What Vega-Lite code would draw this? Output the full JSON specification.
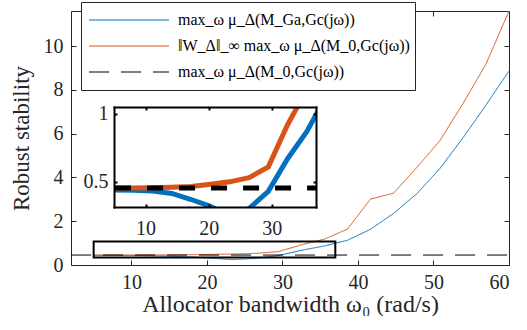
{
  "$schema": "https://vega.github.io/schema/vega-lite/v6.json",
  "width": 438,
  "height": 254,
  "padding": {"left": 10, "top": 1, "right": 0, "bottom": 0},
  "datasets": {
    "curves": [
      {"x": 5, "y": 0.44, "s": "max_ω μ_Δ(M_Ga,Gc(jω))"},
      {"x": 8.056, "y": 0.438, "s": "max_ω μ_Δ(M_Ga,Gc(jω))"},
      {"x": 11.111, "y": 0.432, "s": "max_ω μ_Δ(M_Ga,Gc(jω))"},
      {"x": 14.167, "y": 0.415, "s": "max_ω μ_Δ(M_Ga,Gc(jω))"},
      {"x": 17.222, "y": 0.37, "s": "max_ω μ_Δ(M_Ga,Gc(jω))"},
      {"x": 20.278, "y": 0.32, "s": "max_ω μ_Δ(M_Ga,Gc(jω))"},
      {"x": 23.333, "y": 0.245, "s": "max_ω μ_Δ(M_Ga,Gc(jω))"},
      {"x": 26.389, "y": 0.304, "s": "max_ω μ_Δ(M_Ga,Gc(jω))"},
      {"x": 29.444, "y": 0.43, "s": "max_ω μ_Δ(M_Ga,Gc(jω))"},
      {"x": 32.5, "y": 0.67, "s": "max_ω μ_Δ(M_Ga,Gc(jω))"},
      {"x": 35.556, "y": 0.87, "s": "max_ω μ_Δ(M_Ga,Gc(jω))"},
      {"x": 38.611, "y": 1.13, "s": "max_ω μ_Δ(M_Ga,Gc(jω))"},
      {"x": 41.667, "y": 1.63, "s": "max_ω μ_Δ(M_Ga,Gc(jω))"},
      {"x": 44.722, "y": 2.36, "s": "max_ω μ_Δ(M_Ga,Gc(jω))"},
      {"x": 47.778, "y": 3.25, "s": "max_ω μ_Δ(M_Ga,Gc(jω))"},
      {"x": 50.833, "y": 4.4, "s": "max_ω μ_Δ(M_Ga,Gc(jω))"},
      {"x": 53.889, "y": 5.8, "s": "max_ω μ_Δ(M_Ga,Gc(jω))"},
      {"x": 56.944, "y": 7.3, "s": "max_ω μ_Δ(M_Ga,Gc(jω))"},
      {"x": 60, "y": 8.86, "s": "max_ω μ_Δ(M_Ga,Gc(jω))"},
      {"x": 5, "y": 0.455, "s": "‖W_Δ‖_∞ max_ω μ_Δ(M_0,Gc(jω))"},
      {"x": 8.056, "y": 0.455, "s": "‖W_Δ‖_∞ max_ω μ_Δ(M_0,Gc(jω))"},
      {"x": 11.111, "y": 0.456, "s": "‖W_Δ‖_∞ max_ω μ_Δ(M_0,Gc(jω))"},
      {"x": 14.167, "y": 0.46, "s": "‖W_Δ‖_∞ max_ω μ_Δ(M_0,Gc(jω))"},
      {"x": 17.222, "y": 0.466, "s": "‖W_Δ‖_∞ max_ω μ_Δ(M_0,Gc(jω))"},
      {"x": 20.278, "y": 0.482, "s": "‖W_Δ‖_∞ max_ω μ_Δ(M_0,Gc(jω))"},
      {"x": 23.333, "y": 0.5, "s": "‖W_Δ‖_∞ max_ω μ_Δ(M_0,Gc(jω))"},
      {"x": 26.389, "y": 0.53, "s": "‖W_Δ‖_∞ max_ω μ_Δ(M_0,Gc(jω))"},
      {"x": 29.444, "y": 0.61, "s": "‖W_Δ‖_∞ max_ω μ_Δ(M_0,Gc(jω))"},
      {"x": 32.5, "y": 0.92, "s": "‖W_Δ‖_∞ max_ω μ_Δ(M_0,Gc(jω))"},
      {"x": 35.556, "y": 1.18, "s": "‖W_Δ‖_∞ max_ω μ_Δ(M_0,Gc(jω))"},
      {"x": 38.611, "y": 1.64, "s": "‖W_Δ‖_∞ max_ω μ_Δ(M_0,Gc(jω))"},
      {"x": 41.667, "y": 3.01, "s": "‖W_Δ‖_∞ max_ω μ_Δ(M_0,Gc(jω))"},
      {"x": 44.722, "y": 3.28, "s": "‖W_Δ‖_∞ max_ω μ_Δ(M_0,Gc(jω))"},
      {"x": 47.778, "y": 4.45, "s": "‖W_Δ‖_∞ max_ω μ_Δ(M_0,Gc(jω))"},
      {"x": 50.833, "y": 5.67, "s": "‖W_Δ‖_∞ max_ω μ_Δ(M_0,Gc(jω))"},
      {"x": 53.889, "y": 7.36, "s": "‖W_Δ‖_∞ max_ω μ_Δ(M_0,Gc(jω))"},
      {"x": 56.944, "y": 9.17, "s": "‖W_Δ‖_∞ max_ω μ_Δ(M_0,Gc(jω))"},
      {"x": 60, "y": 11.6, "s": "‖W_Δ‖_∞ max_ω μ_Δ(M_0,Gc(jω))"}
    ],
    "level": [
      {"x": 2, "y": 0.454, "s": "max_ω μ_Δ(M_0,Gc(jω))"},
      {"x": 60, "y": 0.454, "s": "max_ω μ_Δ(M_0,Gc(jω))"}
    ]
  },
  "config": {
    "font": "Liberation Serif",
    "view": {"stroke": "#262626", "strokeWidth": 1},
    "axis": {
      "labelFont": "Liberation Serif",
      "titleFont": "Liberation Serif",
      "labelColor": "#262626",
      "titleColor": "#262626",
      "tickColor": "#262626",
      "domainColor": "#262626",
      "grid": false,
      "labelFontSize": 20,
      "titleFontSize": 23,
      "titleFontWeight": "normal"
    },
    "legend": {
      "labelFont": "Liberation Serif",
      "labelFontSize": 16,
      "labelColor": "#000000",
      "labelLimit": 0,
      "symbolType": "stroke",
      "symbolSize": 6400,
      "symbolStrokeWidth": 1.2,
      "symbolOffset": 2,
      "labelOffset": 8,
      "clipHeight": 26,
      "rowPadding": 0,
      "padding": 5,
      "strokeColor": "#262626",
      "fillColor": "white",
      "orient": "none",
      "legendX": 10,
      "legendY": -9,
      "title": null
    }
  },
  "resolve": {
    "scale": {"x": "independent", "y": "independent"},
    "axis": {"x": "independent", "y": "independent"}
  },
  "layer": [
    {
      "resolve": {"axis": {"x": "independent", "y": "independent"}},
      "layer": [
        {
          "data": {"name": "curves"},
          "mark": {"type": "line", "strokeWidth": 1},
          "encoding": {
            "x": {"field": "x", "type": "quantitative",
              "scale": {"domain": [2, 60], "nice": false, "zero": false},
              "axis": {"orient": "bottom", "values": [10, 20, 30, 40, 50, 60], "tickSize": -5, "labelPadding": 12, "domain": false, "title": "Allocator bandwidth ω₀ (rad/s)", "titleFontSize": 24, "titlePadding": 0}},
            "y": {"field": "y", "type": "quantitative",
              "scale": {"domain": [0, 11.6], "nice": false, "zero": false},
              "axis": {"orient": "left", "values": [0, 2, 4, 6, 8, 10], "tickSize": -5, "labelPadding": 13, "domain": false, "title": "Robust stability", "titlePadding": 10}},
            "color": {"field": "s", "type": "nominal",
              "scale": {"domain": ["max_ω μ_Δ(M_Ga,Gc(jω))", "‖W_Δ‖_∞ max_ω μ_Δ(M_0,Gc(jω))", "max_ω μ_Δ(M_0,Gc(jω))"], "range": ["#0072BD", "#D95319", "#000000"]}},
            "strokeDash": {"field": "s", "type": "nominal",
              "scale": {"domain": ["max_ω μ_Δ(M_Ga,Gc(jω))", "‖W_Δ‖_∞ max_ω μ_Δ(M_0,Gc(jω))", "max_ω μ_Δ(M_0,Gc(jω))"], "range": [[1, 0], [1, 0], [20, 12]]}}
          }
        },
        {
          "data": {"name": "level"},
          "mark": {"type": "line", "strokeWidth": 1},
          "encoding": {
            "x": {"field": "x", "type": "quantitative",
              "axis": {"orient": "top", "values": [10, 20, 30, 40, 50, 60], "tickSize": -5, "labels": false, "domain": false, "title": null}},
            "y": {"field": "y", "type": "quantitative",
              "axis": {"orient": "right", "values": [0, 2, 4, 6, 8, 10], "tickSize": -5, "labels": false, "domain": false, "title": null}},
            "color": {"field": "s", "type": "nominal"},
            "strokeDash": {"field": "s", "type": "nominal"}
          }
        },
        {
          "data": {"values": [{}]},
          "mark": {"type": "rect", "filled": false, "stroke": "#000000", "strokeWidth": 2},
          "encoding": {
            "x": {"datum": 5, "type": "quantitative", "axis": null},
            "x2": {"datum": 37},
            "y": {"datum": 0.34, "type": "quantitative", "axis": null},
            "y2": {"datum": 1.07}
          }
        }
      ]
    },
    {
      "resolve": {"axis": {"x": "independent", "y": "independent"}},
      "layer": [
        {
          "data": {"name": "curves"},
          "mark": {"type": "line", "strokeWidth": 5, "clip": {"path": "M43,96H245V196H43Z"}},
          "encoding": {
            "x": {"field": "x", "type": "quantitative",
              "scale": {"domain": [5, 37], "range": [43, 245], "nice": false, "zero": false},
              "axis": {"orient": "bottom", "offset": -58, "values": [10, 20, 30], "tickSize": -3, "tickWidth": 2, "tickColor": "#000000", "labelPadding": 14, "domain": true, "domainWidth": 2, "domainColor": "#000000", "domainCap": "square", "title": null, "zindex": 1}},
            "y": {"field": "y", "type": "quantitative",
              "scale": {"domain": [0.315, 1.05], "range": [196, 96], "nice": false, "zero": false},
              "axis": {"orient": "left", "offset": -43, "values": [0.5, 1], "format": "~g", "tickSize": -3, "tickWidth": 2, "tickColor": "#000000", "labelPadding": 9, "domain": true, "domainWidth": 2, "domainColor": "#000000", "domainCap": "square", "title": null, "zindex": 1}},
            "color": {"field": "s", "type": "nominal"}
          }
        },
        {
          "data": {"name": "level"},
          "mark": {"type": "line", "strokeWidth": 5, "color": "#000000", "strokeDash": [16, 16], "strokeDashOffset": 12, "clip": {"path": "M43,96H245V196H43Z"}},
          "encoding": {
            "x": {"field": "x", "type": "quantitative",
              "axis": {"orient": "top", "offset": -96, "values": [10, 20, 30], "tickSize": -3, "tickWidth": 2, "tickColor": "#000000", "labels": false, "domain": true, "domainWidth": 2, "domainColor": "#000000", "domainCap": "square", "title": null, "zindex": 1}},
            "y": {"field": "y", "type": "quantitative",
              "axis": {"orient": "right", "offset": -193, "values": [0.5, 1], "tickSize": -3, "tickWidth": 2, "tickColor": "#000000", "labels": false, "domain": true, "domainWidth": 2, "domainColor": "#000000", "domainCap": "square", "title": null, "zindex": 1}}
          }
        }
      ]
    }
  ]
}
